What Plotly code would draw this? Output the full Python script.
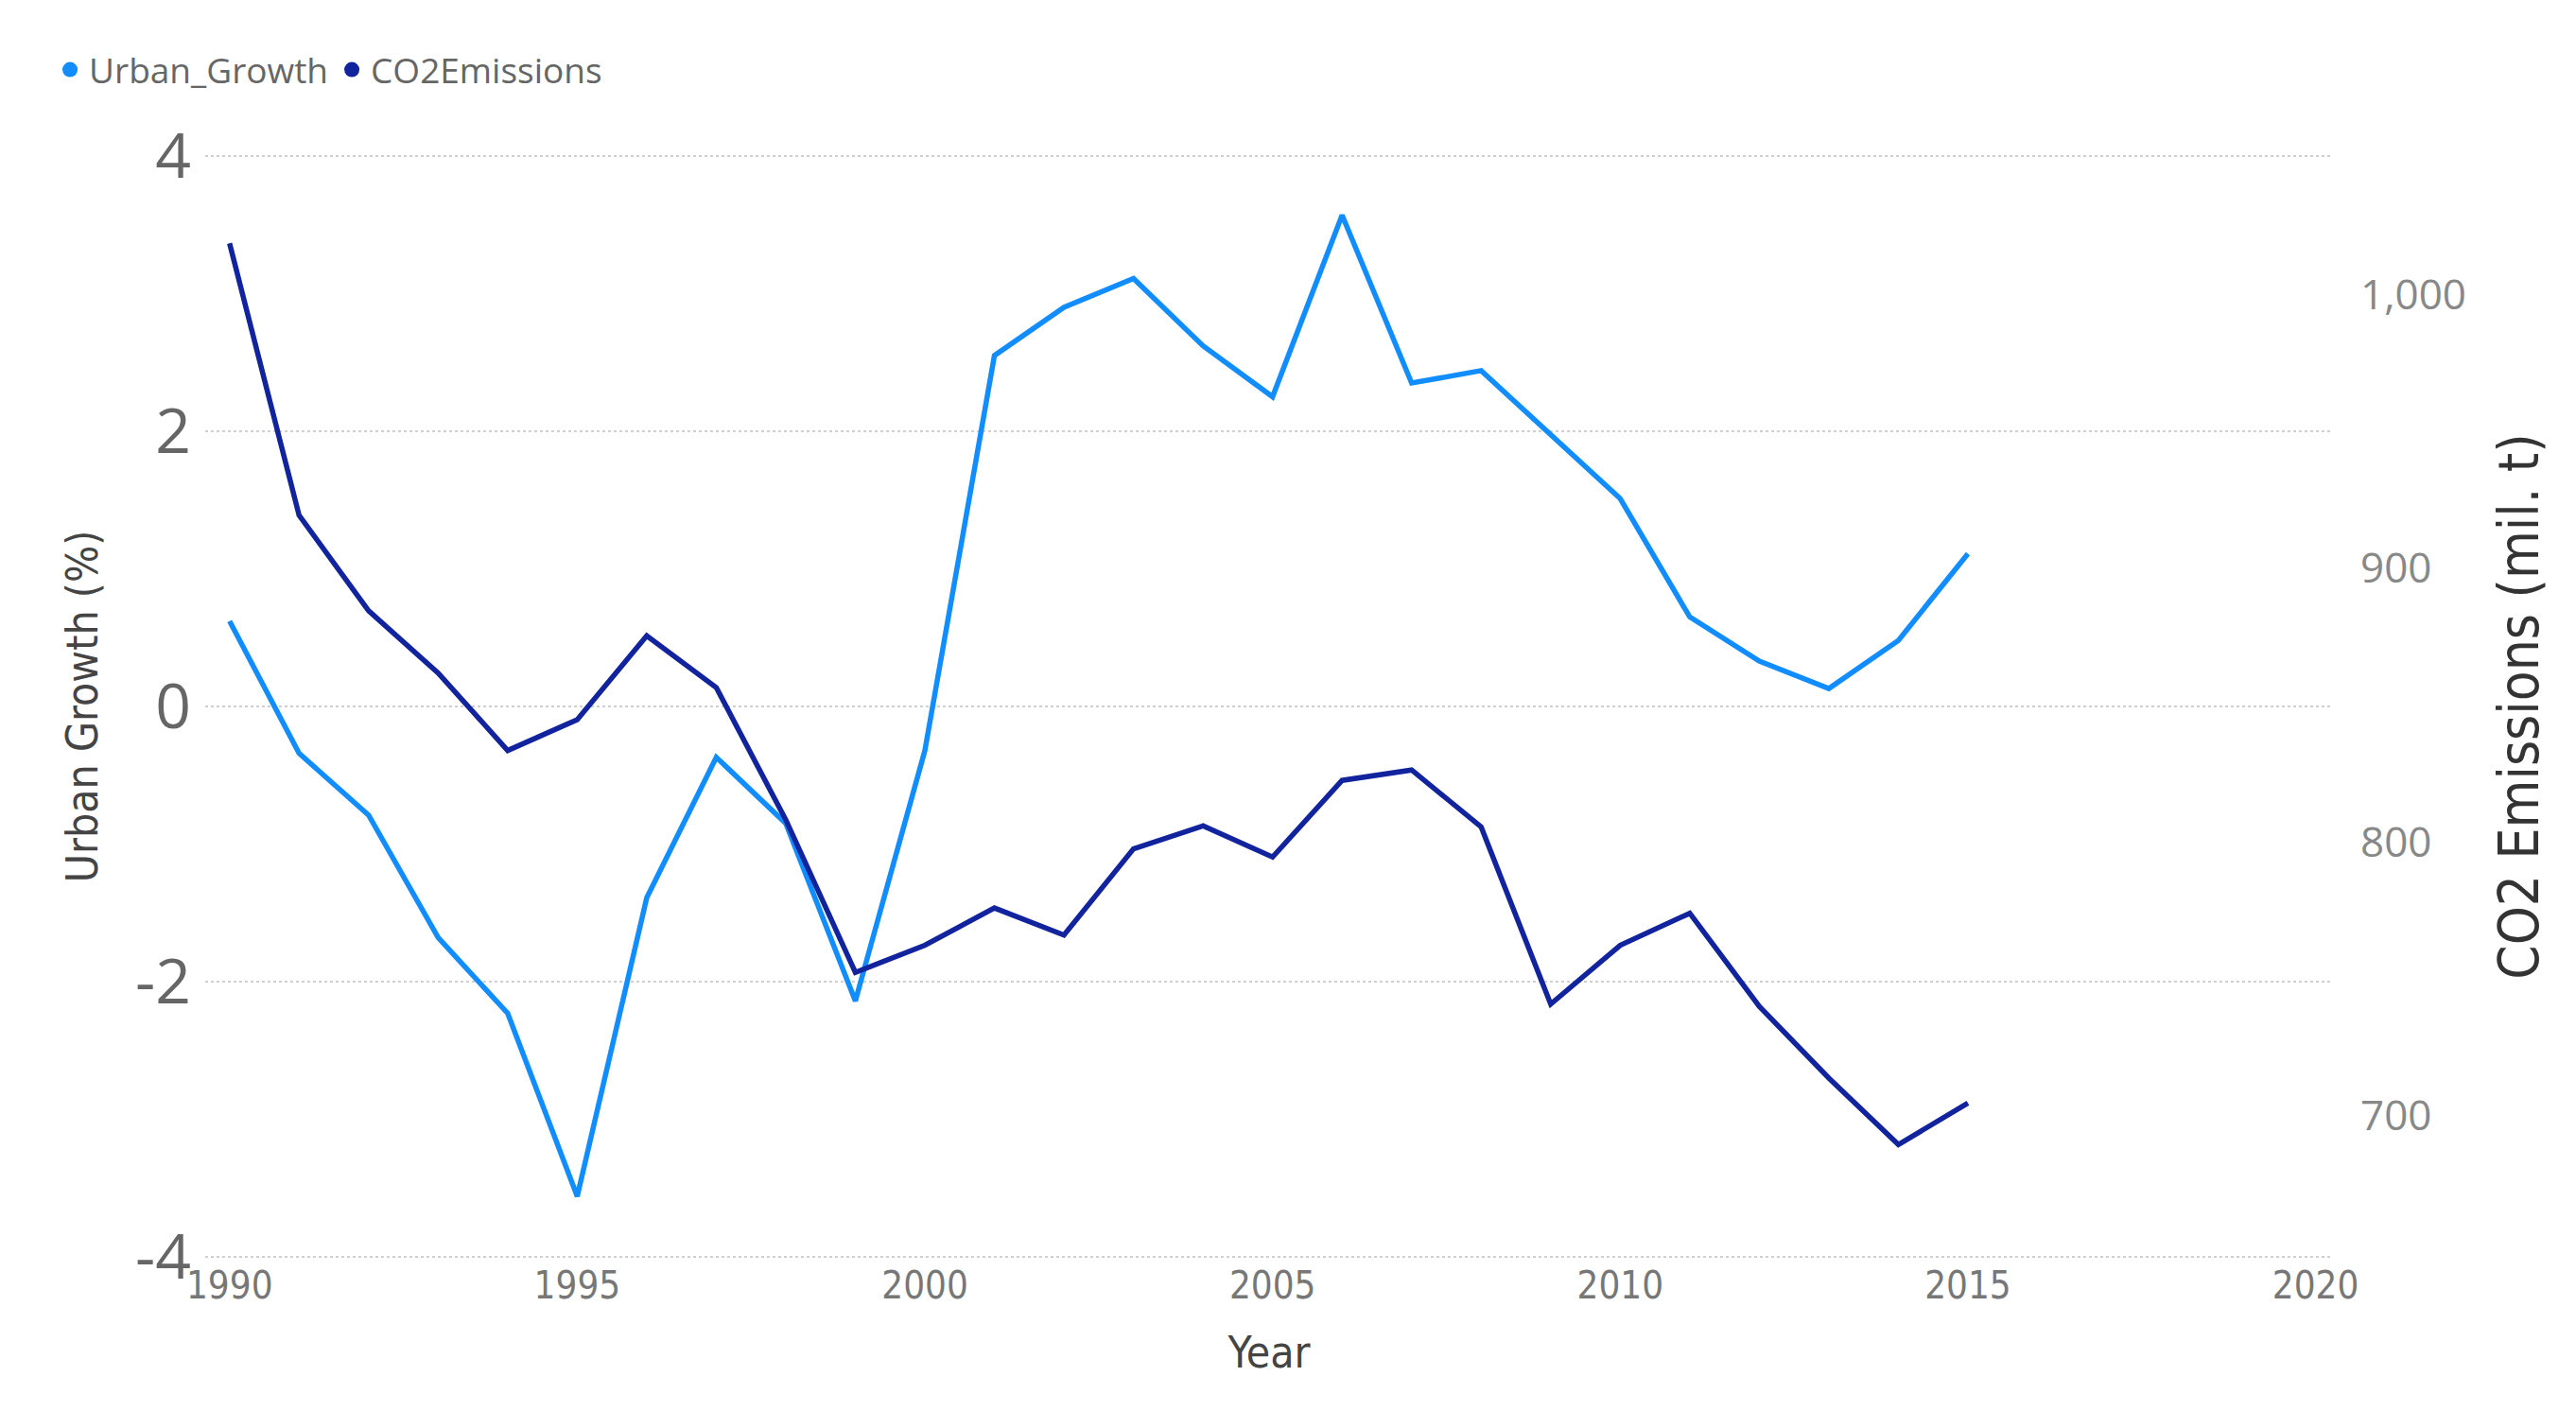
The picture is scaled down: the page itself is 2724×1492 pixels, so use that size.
import plotly.graph_objects as go

years = list(range(1990, 2016))
urban_growth = [0.62, -0.34, -0.79, -1.68, -2.23, -3.56, -1.39, -0.37, -0.85, -2.14,
                -0.32, 2.55, 2.90, 3.11, 2.62, 2.25, 3.57, 2.35, 2.44, 1.97,
                1.51, 0.65, 0.33, 0.13, 0.48, 1.11]
co2_emissions = [1018.6, 919.3, 884.4, 861.7, 833.4, 844.7, 875.3, 856.4, 808.1, 752.4,
                 762.3, 775.9, 766.0, 797.5, 805.9, 794.5, 822.5, 826.3, 805.5, 740.8,
                 762.3, 774.0, 740.0, 713.8, 689.5, 704.7]

left_tickvals = [-4, -2, 0, 2, 4]
left_ticktext = ["-4", "-2", "0", "2", "4"]
right_tickvals = [700, 800, 900, 1000]
x_tickvals = [1990, 1995, 2000, 2005, 2010, 2015, 2020]

light_blue = "#118DFF"
dark_blue = "#12239E"
cond_font = "DejaVu Sans Condensed, Liberation Sans Narrow, Roboto, sans-serif"
main_font = "Segoe UI, Open Sans, DejaVu Sans, sans-serif"

fig = go.Figure()
fig.add_trace(go.Scatter(x=years, y=urban_growth, mode="lines", name="Urban_Growth",
                         line=dict(color=light_blue, width=5.5), showlegend=False, yaxis="y"))
fig.add_trace(go.Scatter(x=years, y=co2_emissions, mode="lines", name="CO2Emissions",
                         line=dict(color=dark_blue, width=5.5), showlegend=False, yaxis="y2"))
# legend entries with dot markers
fig.add_trace(go.Scatter(x=[None], y=[None], mode="markers", name="Urban_Growth",
                         marker=dict(color=light_blue, size=17, symbol="circle")))
fig.add_trace(go.Scatter(x=[None], y=[None], mode="markers", name="CO2Emissions",
                         marker=dict(color=dark_blue, size=17, symbol="circle")))

fig.update_layout(
    width=2708, height=1476, autosize=False,
    paper_bgcolor="white", plot_bgcolor="white",
    margin=dict(l=209, r=249, t=150, b=152),
    font=dict(family=main_font, color="#666666"),
    legend=dict(orientation="h", xref="container", yref="container",
                x=0.017, y=1 - 66 / 1476, xanchor="left", yanchor="middle",
                font=dict(size=37, color="#666666", family=main_font),
                itemwidth=30, tracegroupgap=0, bgcolor="rgba(0,0,0,0)"),
    xaxis=dict(range=[1989.65, 2020.25], tickvals=x_tickvals, showgrid=False,
               zeroline=False, showline=False, ticks="",
               tickfont=dict(size=40, color="#777777", family=cond_font),
               title=dict(text="Year", font=dict(size=46, color="#444444", family=cond_font),
                          standoff=32)),
    yaxis=dict(range=[-4.02, 4.02], tickvals=left_tickvals, ticktext=left_ticktext,
               showgrid=True, gridcolor="#D0D0D0", griddash="dot", gridwidth=2,
               zeroline=False, showline=False, ticks="", ticklabelstandoff=14,
               tickfont=dict(size=66, color="#666666", family=main_font),
               title=dict(text="Urban Growth (%)", font=dict(size=46, color="#444444", family=cond_font),
                          standoff=24)),
    yaxis2=dict(range=[647.5, 1051.5], tickvals=right_tickvals, tickformat=",",
                overlaying="y", side="right", showgrid=False, zeroline=False,
                showline=False, ticks="", ticklabelstandoff=28,
                tickfont=dict(size=44, color="#888888", family=main_font),
                title=dict(text="CO2 Emissions (mil. t)", font=dict(size=58, color="#333333", family=cond_font),
                           standoff=36)),
)

fig.write_html("out.html")
